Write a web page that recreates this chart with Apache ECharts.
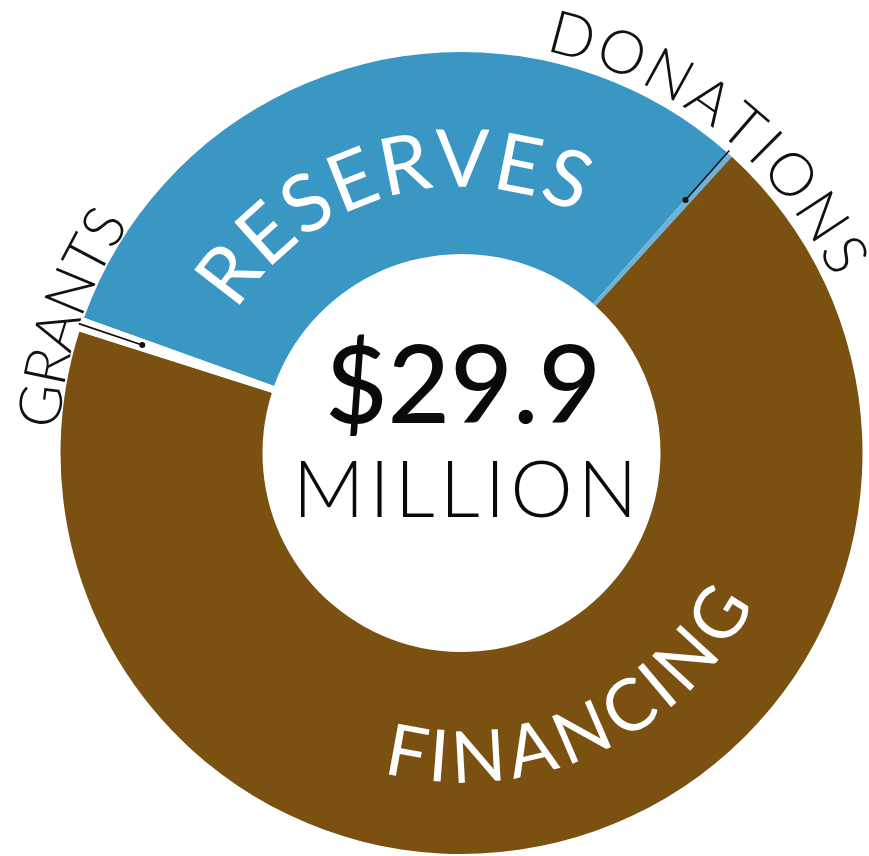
<!DOCTYPE html>
<html>
<head>
<meta charset="utf-8">
<script src="https://cdn.jsdelivr.net/npm/echarts@6/dist/echarts.min.js"></script>
<style>
  html, body { margin: 0; padding: 0; background: #ffffff; }
  #chart { width: 869px; height: 856px; }
</style>
</head>
<body>
<div id="chart"></div>
<script>
// ---- data (millions of dollars) ----
const categories = ['RESERVES', 'DONATIONS', 'FINANCING', 'GRANTS'];
const values = [9.28, 0.08, 20.37, 0.17];
const totalLabel = '$29.9';
const totalUnit = 'MILLION';

// ---- style / layout ----
const colors = ['#3a97c4', '#6db2d9', '#7b5112', '#ffffff'];
const CX = 461.5, CY = 453, R_IN = 199, R_OUT = 401;
const START_ANGLE = 160.3; // echarts degrees (ccw from 3 o'clock)

const chart = echarts.init(document.getElementById('chart'), null, { renderer: 'canvas' });

// slice angles (clockwise from 12 o'clock, degrees), derived from data
const total = values.reduce((a, b) => a + b, 0);
const startCW = 90 - START_ANGLE;
let acc = startCW;
const mids = values.map(v => {
  const span = v / total * 360;
  const m = acc + span / 2;
  acc += span;
  return m;
});

const mctx = document.createElement('canvas').getContext('2d');
function arcText(text, centerDeg, r, font, spacing, color, outward) {
  mctx.font = font;
  const chars = text.split('');
  const widths = chars.map(c => mctx.measureText(c).width);
  const totalW = widths.reduce((a, b) => a + b, 0) + spacing * (chars.length - 1);
  const dir = outward ? 1 : -1;
  const c0 = centerDeg * Math.PI / 180;
  let pos = -totalW / 2;
  const els = [];
  chars.forEach((ch, i) => {
    const s = pos + widths[i] / 2;
    const a = c0 + dir * s / r;
    pos += widths[i] + spacing;
    els.push({
      type: 'text',
      z: 100,
      x: CX + r * Math.sin(a),
      y: CY - r * Math.cos(a),
      rotation: outward ? -a : -(a - Math.PI),
      silent: true,
      style: { text: ch, font: font, fill: color, textAlign: 'center', textVerticalAlign: 'middle' }
    });
  });
  return els;
}

function leader(deg, r1, r2) {
  const a = deg * Math.PI / 180;
  const p = r => [CX + r * Math.sin(a), CY - r * Math.cos(a)];
  const e = p(r2);
  return [
    { type: 'line', z: 100, silent: true, shape: { x1: p(r1)[0], y1: p(r1)[1], x2: e[0], y2: e[1] },
      style: { stroke: '#111', lineWidth: 1.6 } },
    { type: 'circle', z: 100, silent: true, shape: { cx: e[0], cy: e[1], r: 3 }, style: { fill: '#111' } }
  ];
}

const FONT_FAMILY = 'Lato, "Open Sans", sans-serif';
let graphics = [];
graphics = graphics.concat(arcText(categories[0], mids[0] - 1.5, 292, '400 80px ' + FONT_FAMILY, 6, '#ffffff', true));
graphics = graphics.concat(arcText(categories[2], mids[2] - 9.4, 306, '400 72px ' + FONT_FAMILY, 2, '#ffffff', false));
graphics = graphics.concat(arcText(categories[3], mids[3] + 0.3, 422, '300 59px ' + FONT_FAMILY, 0, '#111111', true));
graphics = graphics.concat(arcText(categories[1], mids[1] - 3.6, 430, '300 60px ' + FONT_FAMILY, 5.5, '#111111', true));
graphics = graphics.concat(leader(mids[3], 404, 337));
graphics = graphics.concat(leader(mids[1] - 0.4, 404, 338));
graphics.push({
  type: 'text', z: 100, x: 463, y: 388, silent: true,
  style: { text: totalLabel, font: '500 108px ' + FONT_FAMILY, fill: '#0a0a0a', textAlign: 'center', textVerticalAlign: 'middle' }
});
graphics.push({
  type: 'text', z: 100, x: 465, y: 492, silent: true,
  style: { text: totalUnit.split('').join('\u200A'), font: '300 79px ' + FONT_FAMILY, fill: '#0a0a0a', textAlign: 'center', textVerticalAlign: 'middle' }
});

chart.setOption({
  animation: false,
  backgroundColor: '#ffffff',
  series: [{
    type: 'pie',
    z: 2,
    center: [CX, CY],
    radius: [R_IN, R_OUT],
    startAngle: START_ANGLE,
    clockwise: true,
    avoidLabelOverlap: false,
    label: { show: false },
    labelLine: { show: false },
    emphasis: { disabled: true },
    itemStyle: { borderWidth: 0 },
    data: categories.map((c, i) => ({ name: c, value: values[i], itemStyle: { color: colors[i] } }))
  }],
  graphic: { elements: graphics }
});
</script>
</body>
</html>
